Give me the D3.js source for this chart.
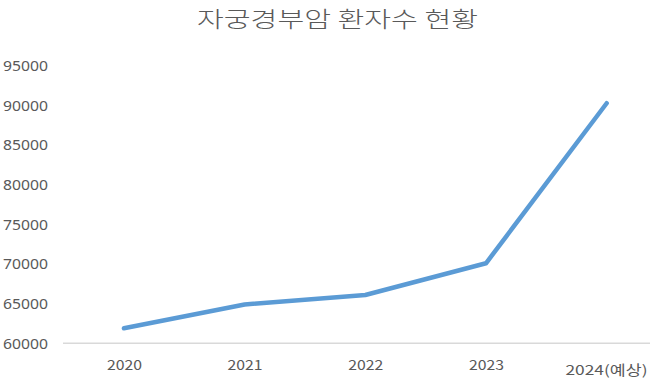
<!DOCTYPE html>
<html>
<head>
<meta charset="utf-8">
<script src="https://cdn.jsdelivr.net/npm/d3@7"></script>
<style>
  html, body { margin: 0; padding: 0; background: #fff; }
  svg { display: block; }
  text { font-family: "Noto Sans CJK KR", "Noto Sans", sans-serif; fill: #595959; }
</style>
</head>
<body>
<svg id="chart" width="650" height="384"></svg>
<script>
const title = "자궁경부암 환자수 현황";
const categories = ["2020", "2021", "2022", "2023", "2024(예상)"];
const patients = [61900, 64900, 66100, 70100, 90300];
const yTicks = [60000, 65000, 70000, 75000, 80000, 85000, 90000, 95000];

const svg = d3.select("#chart");
const W = 650, H = 384;

const x = d3.scalePoint().domain(categories).range([63.6, 667]).padding(0.5);
const y = d3.scaleLinear().domain([60000, 95000]).range([343.3, 66]);

// title
svg.append("text")
  .attr("x", 197).attr("y", 27)
  .attr("textLength", 281).attr("lengthAdjust", "spacingAndGlyphs")
  .style("font-size", "22px").style("font-weight", "300")
  .text(title);

// y axis labels
const yAxis = svg.append("g").call(d3.axisLeft(y).tickValues(yTicks).tickSize(0).tickFormat(d3.format("d")));
yAxis.select(".domain").remove();
yAxis.selectAll("text")
  .attr("x", 3).attr("dy", "0.35em")
  .attr("text-anchor", "start")
  .attr("textLength", 45).attr("lengthAdjust", "spacingAndGlyphs")
  .style("font-size", "13.5px").style("font-family", "'Noto Sans', sans-serif").style("fill", "#595959");

// baseline
svg.append("line")
  .attr("x1", 63).attr("x2", W)
  .attr("y1", y(60000)).attr("y2", y(60000))
  .attr("stroke", "#d9d9d9").attr("stroke-width", 1.5);

// x axis labels
const xAxis = svg.append("g").attr("transform", `translate(0,${y(60000)})`)
  .call(d3.axisBottom(x).tickSize(0));
xAxis.select(".domain").remove();
xAxis.selectAll("text")
  .attr("y", 0)
  .attr("dy", d => d === "2024(예상)" ? 32 : 27)
  .attr("text-anchor", d => d === "2024(예상)" ? "end" : "middle")
  .attr("x", d => d === "2024(예상)" ? 647 - x(d) : 0)
  .attr("textLength", d => d === "2024(예상)" ? 82 : 35)
  .attr("lengthAdjust", "spacingAndGlyphs")
  .style("font-size", "13.5px").style("font-family", "'Noto Sans CJK KR', sans-serif").style("fill", "#595959");

// line
const line = d3.line().x((d, i) => x(categories[i])).y(d => y(d));
svg.append("path")
  .datum(patients)
  .attr("d", line)
  .attr("fill", "none")
  .attr("stroke", "#5b9bd5")
  .attr("stroke-width", 4.5)
  .attr("stroke-linecap", "round")
  .attr("stroke-linejoin", "round");
</script>
</body>
</html>
